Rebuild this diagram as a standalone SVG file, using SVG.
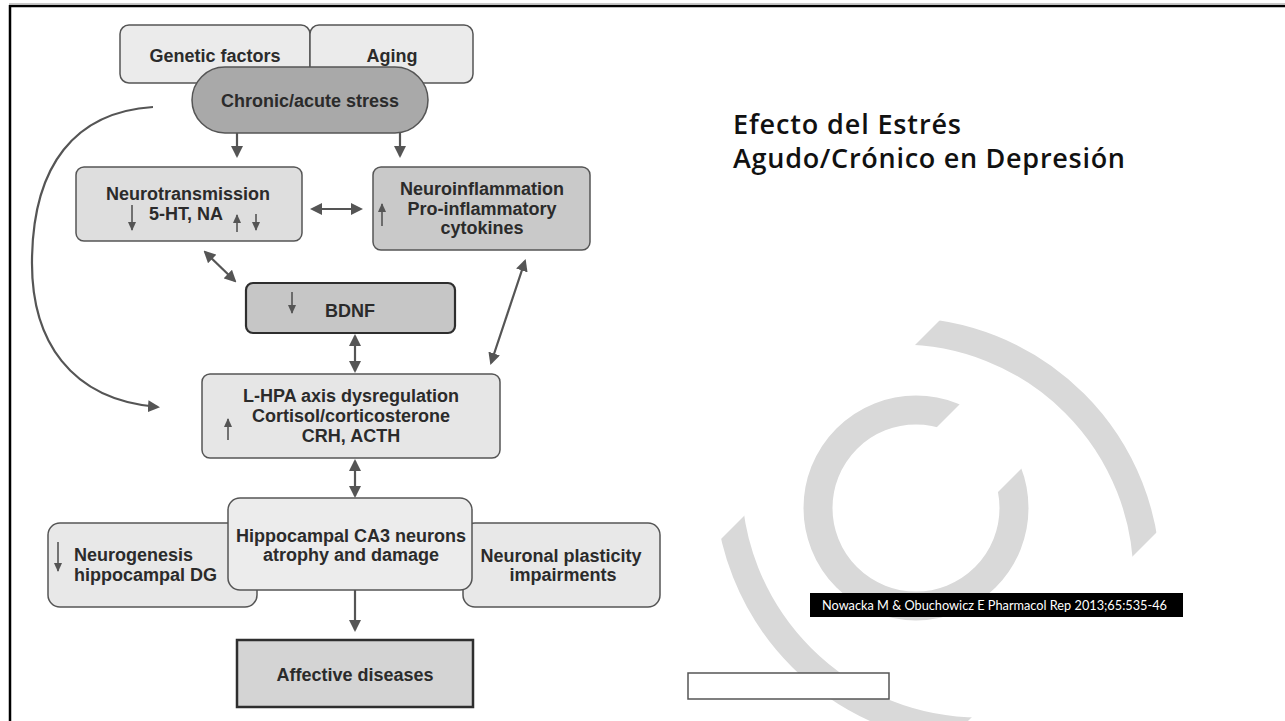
<svg xmlns="http://www.w3.org/2000/svg" width="1285" height="721" viewBox="0 0 1285 721">
  <style>
    .box{stroke:#555;stroke-width:1.5}
    .heavy{stroke:#2e2e2e;stroke-width:2.2}
    .t{font-family:"Liberation Sans",Arial,Helvetica,sans-serif;font-weight:bold;font-size:18px;fill:#2b2b2b;text-anchor:middle}
    .left{text-anchor:start}
    .conn{fill:none;stroke:#555;stroke-width:2.2}
    .tick{fill:none;stroke:#555;stroke-width:1.6}
    .wm{fill:none;stroke:#d9d9d9}
    .title{font-family:"Open Sans","Noto Sans",sans-serif;font-weight:600;font-size:27px;fill:#111}
    .cite{font-family:Lato,"Open Sans",sans-serif;font-size:14px;fill:#fff}
  </style>
  <defs>
    <marker id="ah" viewBox="0 0 12 12" refX="10" refY="6" markerWidth="12" markerHeight="12" markerUnits="userSpaceOnUse" orient="auto-start-reverse">
      <path d="M0,0 L12,6 L0,12 Z" fill="#555"/>
    </marker>
    <marker id="sm" viewBox="0 0 9 8" refX="8" refY="4" markerWidth="9" markerHeight="8" markerUnits="userSpaceOnUse" orient="auto">
      <path d="M0,0 L9,4 L0,8 Z" fill="#555"/>
    </marker>
    <!-- diagonal band that trims both outer arcs -->
    <clipPath id="band">
      <path d="M1760,-500 L2189,-500 L689,1000 L260,1000 Z"/>
    </clipPath>
    <!-- page minus the opening of the inner C -->
    <clipPath id="cgap">
      <path clip-rule="evenodd" d="M0,0 H1285 V721 H0 Z M886,478 L1086,278 L1149,341 L949,541 Z"/>
    </clipPath>
  </defs>

  <rect width="1285" height="721" fill="#fff"/>

  <!-- background logo -->
  <g id="watermark">
    <circle class="wm" cx="916" cy="508" r="98" stroke-width="29" clip-path="url(#cgap)"/>
    <g clip-path="url(#band)">
      <path class="wm" stroke-width="27" d="M900,331 A247,247 0 0 1 1147,578"/>
      <path class="wm" stroke-width="27" d="M728,480 A251,251 0 0 0 979,731"/>
    </g>
  </g>

  <!-- slide frame -->
  <g id="frame">
    <line x1="9" y1="3.5" x2="1285" y2="3.5" stroke="#c8c8c8" stroke-width="1"/>
    <line x1="9" y1="6" x2="1285" y2="6" stroke="#000" stroke-width="2.5"/>
    <line x1="10" y1="5" x2="10" y2="721" stroke="#000" stroke-width="2.5"/>
  </g>

  <g id="title">
    <text class="title" x="733" y="134" textLength="228">Efecto del Estrés</text>
    <text class="title" x="733" y="168" textLength="392">Agudo/Crónico en Depresión</text>
  </g>

  <g id="citation">
    <rect x="810" y="593" width="373" height="24" fill="#000"/>
    <text class="cite" x="822" y="610" textLength="345" lengthAdjust="spacingAndGlyphs">Nowacka M &amp; Obuchowicz E Pharmacol Rep 2013;65:535-46</text>
  </g>

  <rect id="blank-box" x="688" y="673" width="201" height="26" fill="#fff" stroke="#555" stroke-width="1.5"/>

  <!-- connectors -->
  <g id="connectors">
    <line class="conn" x1="237" y1="133" x2="237" y2="156" marker-end="url(#ah)"/>
    <line class="conn" x1="400" y1="133" x2="400" y2="156" marker-end="url(#ah)"/>
    <line class="conn" x1="312" y1="209" x2="361" y2="209" stroke-width="2.6" marker-start="url(#ah)" marker-end="url(#ah)"/>
    <line class="conn" x1="205" y1="252" x2="235" y2="281" stroke-width="2.6" marker-start="url(#ah)" marker-end="url(#ah)"/>
    <line class="conn" x1="355" y1="336" x2="355" y2="371" stroke-width="2.6" marker-start="url(#ah)" marker-end="url(#ah)"/>
    <line class="conn" x1="525" y1="261" x2="491" y2="363" marker-start="url(#ah)" marker-end="url(#ah)"/>
    <line class="conn" x1="355" y1="461" x2="355" y2="496" stroke-width="2.6" marker-start="url(#ah)" marker-end="url(#ah)"/>
    <line class="conn" x1="355" y1="590" x2="355" y2="630" stroke-width="2.6" marker-end="url(#ah)"/>
    <path class="conn" d="M153,107 C75,112 33,165 32,260 C31,340 70,400 158,407" marker-end="url(#ah)"/>
  </g>

  <!-- nodes -->
  <g id="genetic-factors">
    <rect class="box" x="120" y="25" width="190" height="58" rx="9" fill="#ebebeb"/>
    <text class="t" x="215" y="62">Genetic factors</text>
  </g>
  <g id="aging">
    <rect class="box" x="310" y="25" width="163" height="58" rx="9" fill="#ebebeb"/>
    <text class="t" x="392" y="62">Aging</text>
  </g>
  <g id="stress">
    <rect class="box" x="192" y="67" width="236" height="66" rx="33" fill="#a9a9a9"/>
    <text class="t" x="310" y="107">Chronic/acute stress</text>
  </g>

  <g id="neurotransmission">
    <rect class="box" x="76" y="167" width="226" height="74" rx="8" fill="#dedede"/>
    <text class="t" x="188" y="200">Neurotransmission</text>
    <text class="t" x="186" y="220">5-HT, NA</text>
    <line class="tick" x1="132" y1="205" x2="132" y2="230" marker-end="url(#sm)"/>
    <line class="tick" x1="237" y1="232" x2="237" y2="215" marker-end="url(#sm)"/>
    <line class="tick" x1="256" y1="214" x2="256" y2="230" marker-end="url(#sm)"/>
  </g>

  <g id="neuroinflammation">
    <rect class="box" x="373" y="167" width="217" height="83" rx="8" fill="#c9c9c9"/>
    <text class="t" x="482" y="195">Neuroinflammation</text>
    <text class="t" x="482" y="215">Pro-inflammatory</text>
    <text class="t" x="482" y="234">cytokines</text>
    <line class="tick" x1="382" y1="226" x2="382" y2="204" marker-end="url(#sm)"/>
  </g>

  <g id="bdnf">
    <rect class="heavy" x="246" y="283" width="209" height="50" rx="7" fill="#c6c6c6"/>
    <text class="t" x="350" y="317" font-size="23">BDNF</text>
    <line class="tick" x1="292" y1="292" x2="292" y2="313" marker-end="url(#sm)"/>
  </g>

  <g id="hpa-axis">
    <rect class="box" x="202" y="374" width="298" height="84" rx="8" fill="#e6e6e6"/>
    <text class="t" x="351" y="402">L-HPA axis dysregulation</text>
    <text class="t" x="351" y="422">Cortisol/corticosterone</text>
    <text class="t" x="351" y="442">CRH, ACTH</text>
    <line class="tick" x1="228" y1="440" x2="228" y2="419" marker-end="url(#sm)"/>
  </g>

  <g id="neurogenesis">
    <rect class="box" x="48" y="523" width="209" height="84" rx="12" fill="#e8e8e8"/>
    <text class="t left" x="74" y="561">Neurogenesis</text>
    <text class="t left" x="74" y="581">hippocampal DG</text>
    <line class="tick" x1="58" y1="542" x2="58" y2="571" marker-end="url(#sm)"/>
  </g>

  <g id="plasticity">
    <rect class="box" x="463" y="523" width="197" height="84" rx="12" fill="#e8e8e8"/>
    <text class="t" x="561" y="562">Neuronal plasticity</text>
    <text class="t" x="563" y="581">impairments</text>
  </g>

  <g id="hippocampal">
    <rect class="box" x="228" y="498" width="244" height="92" rx="12" fill="#ececec"/>
    <text class="t" x="351" y="542">Hippocampal CA3 neurons</text>
    <text class="t" x="351" y="561">atrophy and damage</text>
  </g>

  <g id="affective">
    <rect x="237" y="640" width="236" height="67" fill="#d4d4d4" stroke="#2e2e2e" stroke-width="2.5"/>
    <text class="t" x="355" y="681" font-size="21">Affective diseases</text>
  </g>
</svg>
